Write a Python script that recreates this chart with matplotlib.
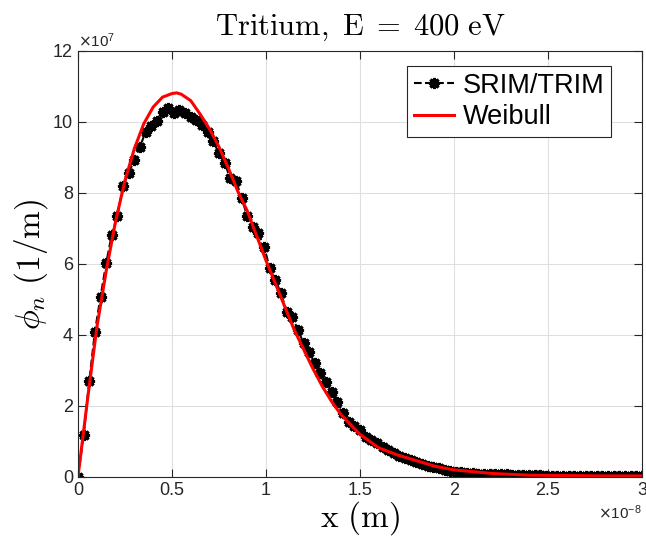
import numpy as np
import matplotlib
matplotlib.use('Agg')
import matplotlib.pyplot as plt
from matplotlib.ticker import ScalarFormatter

plt.rcParams['font.family'] = ['Liberation Sans', 'DejaVu Sans']

# SRIM/TRIM depth bins (m) and counts (1/m)
srim_x = np.linspace(0, 3e-8, 101)
srim_y = np.array([
    0.00, 1.18, 2.70, 4.09, 5.08, 6.02, 6.83, 7.36, 8.20, 8.57,
    8.93, 9.30, 9.73, 9.89, 10.04, 10.29, 10.39, 10.25, 10.33, 10.25,
    10.15, 10.06, 9.92, 9.73, 9.45, 9.12, 8.85, 8.41, 8.35, 7.86,
    7.36, 7.05, 6.86, 6.49, 5.88, 5.55, 5.17, 4.66, 4.52, 4.14,
    3.77, 3.53, 3.20, 2.92, 2.68, 2.40, 2.12, 1.79, 1.56, 1.44,
    1.32, 1.14, 1.05, 0.95, 0.85, 0.75, 0.67, 0.60, 0.53, 0.47,
    0.42, 0.37, 0.32, 0.28, 0.24, 0.20, 0.17, 0.15, 0.13, 0.11,
    0.10, 0.09, 0.09, 0.08, 0.08, 0.07, 0.07, 0.06, 0.06, 0.06,
    0.05, 0.05, 0.05, 0.04, 0.04, 0.04, 0.04, 0.03, 0.03, 0.03,
    0.03, 0.03, 0.02, 0.02, 0.02, 0.02, 0.02, 0.02, 0.02, 0.02,
    0.02]) * 1e7

# Weibull fit curve
weib_x = np.array([0.0, 0.05, 0.1, 0.15, 0.2, 0.25, 0.3, 0.35, 0.4, 0.45,
                   0.5, 0.525, 0.55, 0.6, 0.65, 0.7, 0.75, 0.8, 0.85, 0.9, 0.95,
                   1.0, 1.05, 1.1, 1.15, 1.2, 1.25, 1.3, 1.35, 1.4, 1.5,
                   1.6, 1.7, 1.8, 1.9, 2.0, 2.2, 2.4, 2.6, 2.8, 3.0]) * 1e-8
weib_y = np.array([0.0, 2.15, 4.2, 5.8, 7.2, 8.35, 9.25, 9.95, 10.42, 10.7,
                   10.8, 10.82, 10.78, 10.6, 10.22, 9.8, 9.3, 8.7, 8.05, 7.5, 6.8,
                   6.1, 5.45, 4.8, 4.15, 3.6, 3.05, 2.55, 2.12, 1.75, 1.2,
                   0.82, 0.62, 0.46, 0.30, 0.20, 0.10, 0.05, 0.04, 0.03, 0.03]) * 1e7


# plain %g tick labels, keep the x10^n offset text
class GFormatter(ScalarFormatter):
    def _set_format(self):
        self.format = '%g'


fig = plt.figure(figsize=(6.46, 5.48), dpi=100)
ax = fig.add_axes([0.1207, 0.1296, 0.873, 0.7774])

ax.plot(srim_x, srim_y, '--', color='k', lw=1.5, marker=(8, 2, 0),
        markersize=8, markeredgewidth=2.2, label='SRIM/TRIM')
ax.plot(weib_x, weib_y, '-', color='#ff0000', lw=2.2, label='Weibull')

ax.set_xlim(0, 3e-8)
ax.set_ylim(0, 12e7)
ax.set_xticks(np.arange(0, 3.01e-8, 0.5e-8))
ax.set_yticks(np.arange(0, 12.01e7, 2e7))

ax.xaxis.set_major_formatter(GFormatter(useMathText=True))
ax.yaxis.set_major_formatter(GFormatter(useMathText=True))
ax.ticklabel_format(style='sci', axis='x', scilimits=(-8, -8))
ax.ticklabel_format(style='sci', axis='y', scilimits=(7, 7))
for t in (ax.xaxis.get_offset_text(), ax.yaxis.get_offset_text()):
    t.set_fontsize(11)
    t.set_color('#262626')

ax.grid(True, color='#dfdfdf', lw=0.8)
ax.set_axisbelow(True)
ax.tick_params(direction='in', length=6, width=0.8, top=True, right=True,
               labelsize=13, colors='#262626')
for s in ax.spines.values():
    s.set_color('#262626')
    s.set_linewidth(0.8)

ax.set_title(r'$\mathrm{Tritium,\ E\;=\;400\ eV}$', fontsize=22,
             math_fontfamily='cm', pad=12)
ax.set_xlabel(r'$\mathrm{x\ (m)}$', fontsize=24, math_fontfamily='cm', labelpad=0)
ax.set_ylabel(r'$\phi_n\ \mathrm{(1/m)}$', fontsize=24, math_fontfamily='cm', labelpad=2)

leg = ax.legend(loc='upper right', bbox_to_anchor=(0.945, 0.965), fontsize=19.5,
                fancybox=False, framealpha=1, edgecolor='#262626',
                handlelength=1.5, handletextpad=0.3, borderpad=0.25,
                labelspacing=0.2, borderaxespad=0)
leg.get_frame().set_linewidth(0.8)

fig.savefig('out.png', dpi=100)
